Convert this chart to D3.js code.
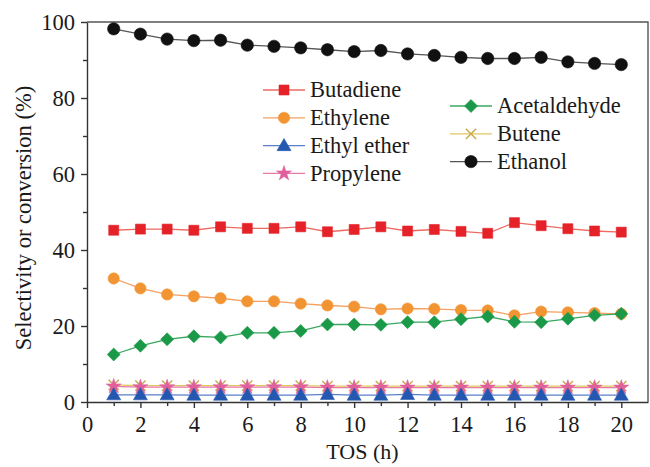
<html lang="en">
<head>
  <meta charset="UTF-8"/>
  <script src="https://d3js.org/d3.v7.min.js"></script>
  <style>
body {
  margin: 0;
  background: white;
}

svg {
  display: block;
}

.axis path, .axis line {
  stroke: #333;
  stroke-width: 1.4;
}

.line {
  fill: none;
  stroke-width: 1.3;
}
  </style>
</head>
<body>
  <svg width="650" height="467"></svg>

<script>

  // TOS (h)
  const tos = d3.range(1, 21)

  const ethanol      = [98.2, 96.8, 95.5, 95.1, 95.2, 93.9, 93.6, 93.2, 92.7, 92.2,
                        92.5, 91.6, 91.2, 90.7, 90.4, 90.4, 90.7, 89.5, 89.1, 88.8]
  const butadiene    = [45.2, 45.5, 45.5, 45.2, 46.1, 45.7, 45.7, 46.1, 44.8, 45.4,
                        46.1, 45.0, 45.4, 44.9, 44.4, 47.2, 46.4, 45.6, 45.0, 44.7]
  const ethylene     = [32.5, 29.9, 28.3, 27.8, 27.3, 26.5, 26.5, 25.9, 25.4, 25.1,
                        24.4, 24.6, 24.5, 24.2, 24.1, 22.8, 23.8, 23.6, 23.4, 23.2]
  const acetaldehyde = [12.5, 14.8, 16.5, 17.3, 17.0, 18.2, 18.2, 18.7, 20.4, 20.4,
                        20.3, 21.0, 21.0, 21.8, 22.5, 21.1, 21.0, 21.9, 22.8, 23.2]
  const butene       = [4.5, 4.3, 4.3, 4.3, 4.3, 4.3, 4.3, 4.3, 4.2, 4.2,
                        4.2, 4.2, 4.2, 4.2, 4.2, 4.2, 4.2, 4.2, 4.2, 4.2]
  const propylene    = [4.1, 3.9, 3.9, 3.9, 3.9, 3.9, 3.9, 3.9, 3.8, 3.8,
                        3.8, 3.8, 3.8, 3.8, 3.8, 3.8, 3.8, 3.8, 3.8, 3.8]
  const ethylEther   = [1.9, 1.9, 1.9, 1.8, 1.8, 1.8, 1.8, 1.8, 2.0, 1.8,
                        1.8, 2.0, 1.8, 1.8, 1.8, 1.8, 1.8, 1.8, 1.8, 1.8]

  const xTicks = d3.range(0, 21, 2)
  const yTicks = d3.range(0, 101, 20)

  const FONT = "'Liberation Serif', 'Times New Roman', serif"

  const series = [
    {name: 'Ethanol', values: ethanol, color: '#111', line: '#555', symbol: d3.symbolCircle, size: 120},
    {name: 'Butadiene', values: butadiene, color: '#e42228', line: '#ec6a62', symbol: d3.symbolSquare, size: 100},
    {name: 'Ethylene', values: ethylene, color: '#f39432', line: '#f3a060', symbol: d3.symbolCircle, size: 100},
    {name: 'Acetaldehyde', values: acetaldehyde, color: '#1a9a48', line: '#3aa860', symbol: d3.symbolSquare, size: 84, rotate: 45},
    {name: 'Butene', values: butene, color: '#c8a848', line: '#e0c860', symbol: d3.symbolTimes || d3.symbolX, size: 70, open: true},
    {name: 'Propylene', values: propylene, color: '#e0609c', line: '#e87aa8', symbol: d3.symbolStar, size: 70},
    {name: 'Ethyl ether', values: ethylEther, color: '#2458b0', line: '#5a80c8', symbol: d3.symbolTriangle, size: 85}
  ]
  const byName = {}
  series.forEach(s => byName[s.name] = s)

  const legendLeft = ['Butadiene', 'Ethylene', 'Ethyl ether', 'Propylene']
  const legendRight = ['Acetaldehyde', 'Butene', 'Ethanol']

  const svg = d3.select('svg')

  const margin = {left: 87, top: 22, right: 2, bottom: 65}
  const width = 650 - margin.left - margin.right
  const height = 467 - margin.top - margin.bottom

  const chart = svg.append('g')
    .attr('transform', `translate(${margin.left},${margin.top})`)

  const x = d3.scaleLinear().domain([0, 21]).range([0, width])
  const y = d3.scaleLinear().domain([0, 100]).range([height, 0])

  // minor ticks
  chart.append('g')
    .attr('class', 'axis')
    .attr('transform', `translate(0,${height})`)
    .call(d3.axisBottom(x).tickValues(d3.range(1, 21, 2)).tickSize(4).tickFormat(''))
    .select('.domain').remove()
  chart.append('g')
    .attr('class', 'axis')
    .call(d3.axisLeft(y).tickValues(d3.range(10, 100, 20)).tickSize(4).tickFormat(''))
    .select('.domain').remove()

  const xAxis = chart.append('g')
    .attr('class', 'axis')
    .attr('transform', `translate(0,${height})`)
    .call(d3.axisBottom(x).tickValues(xTicks).tickSize(6).tickSizeOuter(0).tickPadding(8))
  xAxis.attr('font-family', FONT).attr('font-size', 22.5)
  xAxis.selectAll('text').attr('fill', '#1a1a1a')

  const yAxis = chart.append('g')
    .attr('class', 'axis')
    .call(d3.axisLeft(y).tickValues(yTicks).tickSize(6).tickSizeOuter(0).tickPadding(6))
  yAxis.attr('font-family', FONT).attr('font-size', 22.5)
  yAxis.selectAll('text').attr('fill', '#1a1a1a').attr('dy', '0.34em')

  // frame
  chart.append('path')
    .attr('d', `M0,0H${width}V${height}`)
    .attr('fill', 'none')
    .attr('stroke', '#555')
    .attr('stroke-width', 1.4)

  const line = d3.line()
    .x((d, i) => x(tos[i]))
    .y(d => y(d))

  function drawMarker(sel, s) {
    sel.attr('d', d3.symbol().type(s.symbol).size(s.size))
      .attr('fill', s.open ? 'none' : s.color)
      .attr('stroke', s.color)
      .attr('stroke-width', s.open ? 1.4 : 0.6)
  }

  function markerTransform(s, px, py) {
    let t = `translate(${px},${py + (s.symbol === d3.symbolTriangle ? 1 : 0)})`
    if (s.rotate) t += ` rotate(${s.rotate})`
    return t
  }

  series.forEach(s => {
    const g = chart.append('g')
    g.append('path')
      .datum(s.values)
      .attr('class', 'line')
      .attr('stroke', s.line)
      .attr('d', line)
    g.selectAll('path.pt')
      .data(s.values)
      .join('path')
      .attr('class', 'pt')
      .attr('transform', (d, i) => markerTransform(s, x(tos[i]), y(d)))
      .call(drawMarker, s)
  })

  // legend
  function legendColumn(names, x0, y0) {
    names.forEach((n, i) => {
      const s = byName[n]
      const g = svg.append('g').attr('transform', `translate(${x0},${y0 + i * 27.8})`)
      g.append('line')
        .attr('x1', 0).attr('x2', 42)
        .attr('stroke', s.line).attr('stroke-width', 1.3)
      g.append('path')
        .attr('transform', markerTransform(s, 21, 0))
        .call(drawMarker, s)
      g.append('text')
        .attr('x', 47)
        .attr('dy', '0.33em')
        .attr('font-family', FONT)
        .attr('font-size', 22.5)
        .attr('fill', '#1a1a1a')
        .text(n)
    })
  }
  legendColumn(legendLeft, 263, 90)
  legendColumn(legendRight, 450, 106)

  svg.append('text')
    .attr('text-anchor', 'middle')
    .attr('font-family', FONT)
    .attr('font-size', 22)
    .attr('fill', '#1a1a1a')
    .attr('x', margin.left + x(10.5) - 5)
    .attr('y', 459)
    .text('TOS (h)')

  svg.append('text')
    .attr('text-anchor', 'middle')
    .attr('font-family', FONT)
    .attr('font-size', 22.5)
    .attr('fill', '#1a1a1a')
    .attr('transform', 'translate(31,218) rotate(-90)')
    .text('Selectivity or conversion (%)')

</script>
</body>
</html>
